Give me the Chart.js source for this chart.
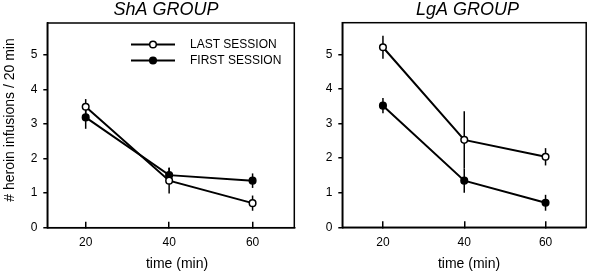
<!DOCTYPE html>
<html>
<head>
<meta charset="utf-8">
<script src="https://cdn.jsdelivr.net/npm/chart.js@4"></script>
<style>
  html, body { margin: 0; padding: 0; background: #fff; }
  #wrap { position: relative; width: 591px; height: 273px; }
  canvas { position: absolute; top: 0; }
  #c1 { left: 0; }
  #c2 { left: 300px; }
</style>
</head>
<body>
<div id="wrap">
  <canvas id="c1" width="300" height="273"></canvas>
  <canvas id="c2" width="291" height="273"></canvas>
</div>
<script>
// values (mean, +/- error)
const times = [20, 40, 60];
const shaLast = [3.5, 1.36, 0.71];
const shaLastErr = [0.22, 0.37, 0.22];
const shaFirst = [3.19, 1.52, 1.36];
const shaFirstErr = [0.33, 0.22, 0.21];
const lgaLast = [5.21, 2.53, 2.04];
const lgaLastErr = [0.33, 0.83, 0.25];
const lgaFirst = [3.52, 1.35, 0.71];
const lgaFirstErr = [0.22, 0.35, 0.23];
const yTicks = [0, 1, 2, 3, 4, 5];
const xTicks = [20, 40, 60];
const seriesNames = ['LAST SESSION', 'FIRST SESSION'];

const FONT = '"Liberation Sans", Arial, sans-serif';

// vertical error bars, drawn under the points
const errorBars = {
  id: 'errorBars',
  beforeDatasetsDraw(chart) {
    const ctx = chart.ctx, xs = chart.scales.x, ys = chart.scales.y;
    ctx.save();
    ctx.strokeStyle = '#000';
    ctx.lineWidth = 1.5;
    chart.data.datasets.forEach(ds => {
      ds.data.forEach((p, i) => {
        const e = ds.errs[i];
        const x = xs.getPixelForValue(p.x);
        ctx.beginPath();
        ctx.moveTo(x, ys.getPixelForValue(p.y - e));
        ctx.lineTo(x, ys.getPixelForValue(p.y + e));
        ctx.stroke();
      });
    });
    ctx.restore();
  }
};

// frame, titles, legend
function deco(cfg) {
  return {
    id: 'deco',
    beforeDatasetsDraw(chart) {
      const a = chart.chartArea, ctx = chart.ctx;
      ctx.save();
      ctx.strokeStyle = '#000';
      ctx.lineWidth = 1.5;
      ctx.strokeRect(a.left, a.top, a.right - a.left, a.bottom - a.top);
      ctx.restore();
    },
    afterDraw(chart) {
      const ctx = chart.ctx;
      ctx.save();
      ctx.fillStyle = '#000';
      ctx.textAlign = 'center';
      ctx.textBaseline = 'middle';
      ctx.font = 'italic 18px ' + FONT;
      ctx.fillText(cfg.title, cfg.titleX, 10);
      ctx.font = '14px ' + FONT;
      ctx.fillText('time (min)', cfg.xTitleX, 264);
      if (cfg.yTitle) {
        ctx.save();
        ctx.translate(10.5, 120);
        ctx.rotate(-Math.PI / 2);
        ctx.fillText(cfg.yTitle, 0, 0);
        ctx.restore();
      }
      if (cfg.legend) {
        const ys = [44.5, 60.5];
        chart.data.datasets.forEach((ds, i) => {
          const y = ys[i];
          ctx.strokeStyle = '#000';
          ctx.lineWidth = 2;
          ctx.beginPath();
          ctx.moveTo(131, y);
          ctx.lineTo(175, y);
          ctx.stroke();
          ctx.beginPath();
          ctx.arc(153, y, 3.3, 0, Math.PI * 2);
          ctx.fillStyle = ds.pointBackgroundColor;
          ctx.fill();
          ctx.lineWidth = 1.5;
          ctx.stroke();
          ctx.fillStyle = '#000';
          ctx.textAlign = 'left';
          ctx.font = '12px ' + FONT;
          ctx.fillText(ds.label, 190, y + 0.5);
        });
      }
      ctx.restore();
    }
  };
}

function series(label, vals, errs, fill) {
  return {
    label: label,
    data: times.map((t, i) => ({ x: t, y: vals[i] })),
    errs: errs,
    borderColor: '#000',
    borderWidth: 2,
    tension: 0,
    fill: false,
    pointRadius: 3.3,
    pointHoverRadius: 3.3,
    pointBorderWidth: 1.5,
    pointBorderColor: '#000',
    pointBackgroundColor: fill
  };
}

function makeChart(id, last, lastErr, first, firstErr, xMin, lay, cfg) {
  return new Chart(document.getElementById(id), {
    type: 'line',
    data: {
      datasets: [
        series(seriesNames[0], last, lastErr, '#fff'),
        series(seriesNames[1], first, firstErr, '#000')
      ]
    },
    options: {
      responsive: false,
      animation: false,
      events: [],
      layout: { padding: { top: lay.top, right: lay.right, left: 0, bottom: 0 } },
      plugins: { legend: { display: false }, tooltip: { enabled: false } },
      scales: {
        x: {
          type: 'linear',
          min: xMin,
          max: 70,
          afterFit: s => { s.height = lay.xh; },
          afterBuildTicks: s => { s.ticks = xTicks.map(v => ({ value: v })); },
          grid: { drawOnChartArea: false, drawTicks: true, tickLength: -6, color: '#000', lineWidth: 1.5 },
          border: { display: true, color: '#000', width: 1.5 },
          ticks: { color: '#000', font: { family: FONT, size: 12 }, padding: 14, maxRotation: 0 }
        },
        y: {
          min: 0,
          max: 5.92,
          afterFit: s => { s.width = lay.yw; },
          afterBuildTicks: s => { s.ticks = yTicks.map(v => ({ value: v })); },
          grid: { drawOnChartArea: false, drawTicks: true, tickLength: 4, color: '#000', lineWidth: 1.5 },
          border: { display: true, color: '#000', width: 1.5 },
          ticks: { color: '#000', font: { family: FONT, size: 12 }, padding: 6 }
        }
      }
    },
    plugins: [errorBars, deco(cfg)]
  });
}

makeChart('c1', shaLast, shaLastErr, shaFirst, shaFirstErr, 10.8,
  { top: 23, right: 5.7, yw: 47.3, xh: 45.3 },
  { title: 'ShA GROUP', titleX: 166, xTitleX: 177, yTitle: '# heroin infusions / 20 min', legend: true });

makeChart('c2', lgaLast, lgaLastErr, lgaFirst, lgaFirstErr, 10,
  { top: 22.7, right: 2.7, yw: 42.3, xh: 45.7 },
  { title: 'LgA GROUP', titleX: 167.5, xTitleX: 169, yTitle: null, legend: false });
</script>
</body>
</html>
